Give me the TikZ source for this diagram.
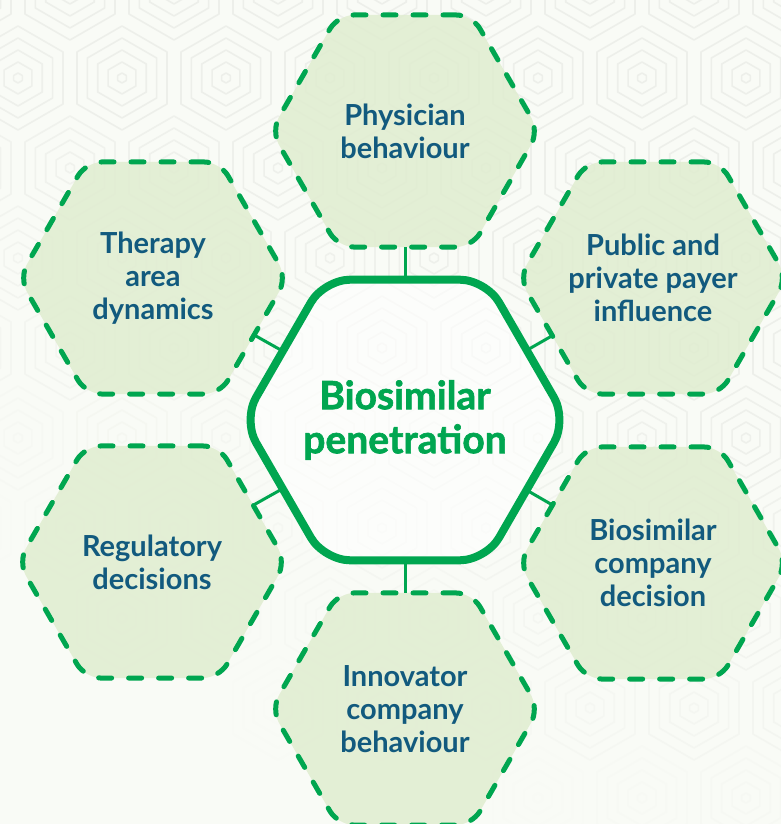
\documentclass[tikz,border=0pt]{standalone}
\usepackage{fontspec}
\setmainfont{Lato}
\newfontfamily\heavyfont{Lato}[BoldFeatures={FakeBold=1.6}]
\usetikzlibrary{shapes.geometric}
\definecolor{bggreen}{HTML}{F9FBF6}
\definecolor{patt}{HTML}{EDEFEA}
\definecolor{hexgreen}{HTML}{00A650}
\definecolor{hexfill}{HTML}{E0EDD0}
\definecolor{txtblue}{HTML}{125A7E}
\begin{document}
\begin{tikzpicture}[x=1pt,y=-1pt,
  outerhex/.style={regular polygon, regular polygon sides=6, minimum size=268pt,
    inner sep=0pt, outer sep=0pt, draw=hexgreen, line width=5pt,
    dash pattern=on 13pt off 17pt, line cap=round, rounded corners=16pt,
    fill=hexfill, fill opacity=0.85},
  centerhex/.style={regular polygon, regular polygon sides=6, minimum size=324pt,
    inner sep=0pt, outer sep=0pt, draw=hexgreen, line width=8pt,
    rounded corners=26pt, fill=white, fill opacity=0.6},
  outertext/.style={align=center, text=txtblue,
    font=\fontsize{29}{33}\selectfont\bfseries},
  centertext/.style={align=center, text=hexgreen,
    font=\heavyfont\fontsize{39}{44}\selectfont\bfseries},
  link/.style={draw=hexgreen, line width=3pt},
  bgline/.style={line width=1.6pt, line join=round}]
\useasboundingbox (0,0) rectangle (781,824);
\clip (0,0) rectangle (781,824);
\fill[bggreen] (0,0) rectangle (781,824);
% background pattern of concentric hexagons
\foreach \k in {0,...,10}{
  \foreach \j in {-1,...,8}{
    \pgfmathsetmacro\cx{70+104*\j-52*mod(\k,2)}
    \pgfmathsetmacro\cy{78+90*\k-90}
    \pgfmathtruncatemacro\s{max(0,min(100,100-\cy/6+\cx/12))}
    \colorlet{pc}{patt!\s!bggreen}
    \foreach \r in {5,16,28,40,52}{
      \draw[bgline, pc, shift={(\cx,\cy)}] (30:\r) -- (90:\r) -- (150:\r) -- (210:\r) -- (270:\r) -- (330:\r) -- cycle;
    }
  }
}
% hexagons
\node[centerhex] (c) at (405,420) {};
\node[outerhex] (phys) at (405,131) {};
\node[outerhex] (payer) at (653,278) {};
\node[outerhex] (bioco) at (653,563) {};
\node[outerhex] (innov) at (405,709) {};
\node[outerhex] (reg) at (152,562) {};
\node[outerhex] (ther) at (153,278) {};
% connectors
\draw[link] (c) -- (phys);
\draw[link] (c) -- (payer);
\draw[link] (c) -- (bioco);
\draw[link] (c) -- (innov);
\draw[link] (c) -- (reg);
\draw[link] (c) -- (ther);
% texts
\node[centertext] (ct) at (c) {Biosimilar\\penetration};
\node[outertext] (tphys) at (phys) {Physician\\behaviour};
\node[outertext] (tpayer) at (payer) {Public and\\private payer\\influence};
\node[outertext] (tbioco) at (bioco) {Biosimilar\\company\\decision};
\node[outertext] (tinnov) at (innov) {Innovator\\company\\behaviour};
\node[outertext] (treg) at (reg) {Regulatory\\decisions};
\node[outertext] (tther) at (ther) {Therapy\\area\\dynamics};
\end{tikzpicture}
\end{document}
